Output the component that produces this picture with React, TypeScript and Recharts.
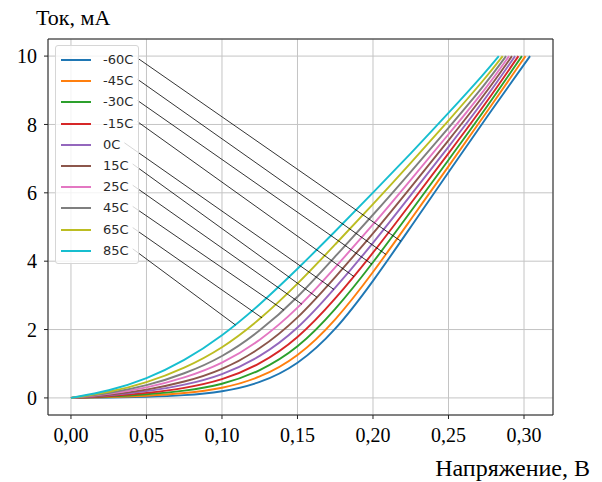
import { CartesianGrid, Legend, Line, LineChart, ReferenceArea, ReferenceLine, XAxis, YAxis } from "recharts";

const temps = ["-60C", "-45C", "-30C", "-15C", "0C", "15C", "25C", "45C", "65C", "85C"];
const colors = ["#1f77b4", "#ff7f0e", "#2ca02c", "#d62728", "#9467bd", "#8c564b", "#e377c2", "#7f7f7f", "#bcbd22", "#17becf"];

// voltage grid (V) shared by all curves
const voltages = [0, 0.025, 0.05, 0.075, 0.1, 0.125, 0.15, 0.175, 0.2, 0.225, 0.25, 0.275];

// current (mA) at each voltage, one list per temperature
const curM60 = [0, 0.01, 0.03, 0.07, 0.17, 0.42, 0.95, 1.95, 3.4, 5.0, 6.6, 8.2];
const curM45 = [0, 0.02, 0.06, 0.13, 0.27, 0.58, 1.18, 2.24, 3.66, 5.22, 6.77, 8.34];
const curM30 = [0, 0.035, 0.1, 0.2, 0.38, 0.77, 1.43, 2.56, 3.95, 5.45, 6.96, 8.48];
const curM15 = [0, 0.05, 0.14, 0.28, 0.51, 0.97, 1.71, 2.88, 4.23, 5.69, 7.15, 8.63];
const cur0 = [0, 0.067, 0.19, 0.37, 0.66, 1.18, 1.99, 3.21, 4.52, 5.93, 7.34, 8.78];
const cur15 = [0, 0.084, 0.23, 0.46, 0.81, 1.41, 2.3, 3.53, 4.8, 6.16, 7.53, 8.93];
const cur25 = [0, 0.105, 0.29, 0.58, 0.99, 1.66, 2.59, 3.82, 5.06, 6.38, 7.71, 9.06];
const cur45 = [0, 0.13, 0.35, 0.7, 1.18, 1.94, 2.92, 4.14, 5.35, 6.61, 7.9, 9.21];
const cur65 = [0, 0.16, 0.44, 0.86, 1.44, 2.28, 3.32, 4.49, 5.66, 6.87, 8.11, 9.38];
const cur85 = [0, 0.2, 0.55, 1.08, 1.8, 2.72, 3.77, 4.87, 6.0, 7.15, 8.33, 9.55];
const currents = [curM60, curM45, curM30, curM15, cur0, cur15, cur25, cur45, cur65, cur85];

// voltage where each curve reaches 10 mA
const endVoltages = [0.304, 0.301, 0.2986, 0.2963, 0.2941, 0.292, 0.2901, 0.2881, 0.2859, 0.2833];
const endCurrent = 10;

// voltage on each curve where its leader line from the legend ends
const leaderVoltages = [0.2185, 0.2086, 0.1993, 0.1874, 0.1742, 0.163, 0.153, 0.141, 0.1265, 0.109];

const xTicks = [0, 0.05, 0.1, 0.15, 0.2, 0.25, 0.3];
const yTicks = [0, 2, 4, 6, 8, 10];

const series = temps.map((name, k) => ({
  name,
  color: colors[k],
  points: [
    ...voltages.map((v, j) => ({ v, i: currents[k][j] })),
    { v: endVoltages[k], i: endCurrent },
  ],
}));

const valueAt = (pts: { v: number; i: number }[], v: number) => {
  for (let j = 1; j < pts.length; j++) {
    if (v <= pts[j].v) {
      const a = pts[j - 1];
      const b = pts[j];
      return a.i + ((v - a.v) / (b.v - a.v)) * (b.i - a.i);
    }
  }
  return pts[pts.length - 1].i;
};

// layout
const W = 602;
const H = 482;
const TOP = 39;
const RIGHT = 49;
const Y_AXIS_W = 48;
const X_AXIS_H = 67;
const PLOT_W = W - Y_AXIS_W - RIGHT;
const PLOT_H = H - TOP - X_AXIS_H;
const X_DOMAIN: [number, number] = [-0.0152, 0.3192];
const Y_DOMAIN: [number, number] = [-0.5, 10.5];

const LEG_LEFT = 55;
const LEG_TOP = 45;
const LEG_W = 84;
const LEG_H = 219;
const ROW0 = 14;
const ROW_H = 21.2;
const TEXT_X = 47;

const pxToV = (px: number) => X_DOMAIN[0] + ((px - Y_AXIS_W) / PLOT_W) * (X_DOMAIN[1] - X_DOMAIN[0]);
const pyToI = (py: number) => Y_DOMAIN[1] - ((py - TOP) / PLOT_H) * (Y_DOMAIN[1] - Y_DOMAIN[0]);

const charW: Record<string, number> = { "-": 4.7, C: 9.1 };
const labelWidth = (s: string) => s.split("").reduce((w, c) => w + (charW[c] ?? 8.3), 0);

const serif = "'Liberation Serif', 'Times New Roman', serif";

const LegendBox = () => (
  <div
    style={{
      width: LEG_W,
      height: LEG_H,
      boxSizing: "border-box",
      border: "1px solid #d6d6d6",
      borderRadius: 3,
      background: "rgba(255,255,255,0.8)",
      position: "relative",
      fontFamily: "'DejaVu Sans', sans-serif",
      fontSize: 13,
      color: "#2a2a2a",
    }}
  >
    {series.map((s, k) => (
      <div key={s.name} style={{ position: "absolute", left: 0, top: ROW0 + k * ROW_H - 10, width: "100%", height: 20 }}>
        <div style={{ position: "absolute", left: 5, top: 9, width: 30, height: 2, background: s.color }} />
        <span style={{ position: "absolute", left: TEXT_X, top: 0, lineHeight: "20px" }}>{s.name}</span>
      </div>
    ))}
  </div>
);

const YTitle = ({ viewBox }: any) => (
  <text x={viewBox.x + 36} y={viewBox.y - 14} fontFamily={serif} fontSize={22} fill="#000">
    Ток, мА
  </text>
);

const XTitle = ({ viewBox }: any) => (
  <text x={viewBox.x + viewBox.width + 37} y={viewBox.y + 61} textAnchor="end" fontFamily={serif} fontSize={24} fill="#000">
    Напряжение, В
  </text>
);

export default function App() {
  return (
    <div style={{ position: "absolute", left: 0, top: 0, width: W, height: H, background: "#fff" }}>
      <LineChart width={W} height={H} margin={{ top: TOP, right: RIGHT, left: 0, bottom: 0 }}>
        <CartesianGrid stroke="#c4c4c4" strokeWidth={1} />
        <XAxis
          dataKey="v"
          type="number"
          domain={X_DOMAIN}
          allowDataOverflow
          ticks={xTicks}
          tickFormatter={(v: number) => v.toFixed(2).replace(".", ",")}
          tickSize={4}
          tickMargin={9}
          height={X_AXIS_H}
          axisLine={false}
          tickLine={{ stroke: "#222" }}
          tick={{ fontFamily: serif, fontSize: 20, fill: "#000" }}
          label={{ content: XTitle }}
        />
        <YAxis
          dataKey="i"
          type="number"
          domain={Y_DOMAIN}
          allowDataOverflow
          ticks={yTicks}
          tickSize={4}
          tickMargin={7}
          width={Y_AXIS_W}
          axisLine={false}
          tickLine={{ stroke: "#222" }}
          tick={{ fontFamily: serif, fontSize: 20, fill: "#000" }}
          label={{ content: YTitle }}
        />
        {series.map((s) => (
          <Line
            key={s.name}
            name={s.name}
            data={s.points}
            dataKey="i"
            type="basis"
            stroke={s.color}
            strokeWidth={1.9}
            dot={false}
            activeDot={false}
            isAnimationActive={false}
          />
        ))}
        {series.map((s, k) => {
          const rowY = LEG_TOP + ROW0 + k * ROW_H - 1;
          const startX = LEG_LEFT + TEXT_X + labelWidth(s.name) + 5;
          const tv = leaderVoltages[k];
          return (
            <ReferenceLine
              key={"lead" + s.name}
              segment={[
                { x: pxToV(startX), y: pyToI(rowY) },
                { x: tv, y: valueAt(s.points, tv) },
              ]}
              stroke="#000"
              strokeWidth={0.8}
              ifOverflow="visible"
            />
          );
        })}
        <ReferenceArea
          x1={X_DOMAIN[0]}
          x2={X_DOMAIN[1]}
          y1={Y_DOMAIN[0]}
          y2={Y_DOMAIN[1]}
          fill="none"
          stroke="#222"
          strokeWidth={1}
          ifOverflow="visible"
        />
        <Legend
          layout="vertical"
          align="center"
          verticalAlign="middle"
          content={LegendBox}
          wrapperStyle={{ left: LEG_LEFT, top: LEG_TOP, width: LEG_W, height: LEG_H }}
        />
      </LineChart>
    </div>
  );
}
